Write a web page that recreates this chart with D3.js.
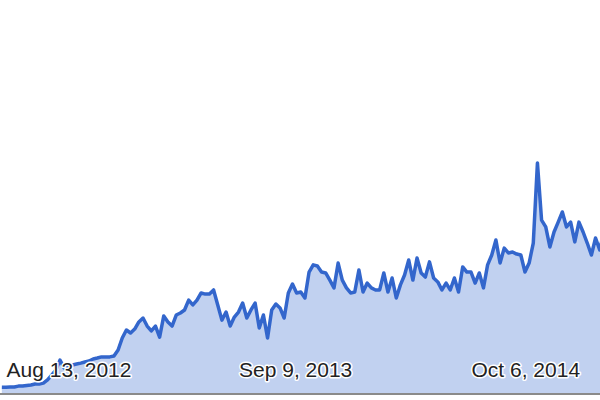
<!DOCTYPE html>
<html>
<head>
<meta charset="utf-8">
<script src="https://cdn.jsdelivr.net/npm/d3@7"></script>
<style>
  html, body { margin: 0; padding: 0; background: #fff; }
  svg { display: block; }
</style>
</head>
<body>
<svg id="chart" width="600" height="400"></svg>
<script>
// Weekly search-interest series (starts week of Aug 6, 2012)
const startDate = "2012-08-06";
const values = [
  2.5, 2.5, 2.6, 2.6, 3, 3, 3.3, 3.5, 3.9, 3.9,
  4.3, 5.7, 7.8, 10, 14.3, 10.9, 11.7, 12.2, 12.6, 13,
  13.5, 13.9, 14.8, 15.2, 15.7, 15.7, 15.7, 16.1, 18.7, 23.9,
  27.4, 26.1, 27.8, 30.9, 32.6, 29.1, 27, 29.1, 24.3, 33.5,
  30.9, 29.1, 33.9, 34.8, 36.1, 40.4, 38.3, 40.4, 43.5, 43,
  43, 44.8, 38.3, 31.7, 35.2, 29.1, 33, 35.2, 39.1, 32.6,
  36.1, 39.1, 28.3, 33.9, 23.9, 36.1, 38.7, 37, 32.6, 43.5,
  47.4, 43.5, 43.9, 41.3, 52.6, 55.7, 55.2, 52.6, 52.2, 49.1,
  45.7, 56.5, 49.1, 45.7, 43.5, 43.9, 53.5, 43.9, 47.8, 45.7,
  44.8, 44.8, 52.2, 43.9, 50, 41.3, 47, 51.3, 57.8, 49.1,
  58.7, 52.2, 50.4, 57, 50, 48.3, 44.8, 47.8, 44.8, 50,
  43.9, 54.8, 52.6, 52.6, 47.8, 52.2, 45.7, 55.7, 60, 66.5,
  56.5, 63, 60.9, 61.3, 60.4, 60, 52.6, 56.5, 65.2, 100,
  75.2, 72.2, 63.5, 70, 74.3, 78.7, 72.2, 74.3, 65.7, 74.3,
  70, 65.2, 60, 67.4, 62.2, 70
];
const tickLabels = ["2012-08-13", "2013-09-09", "2014-10-06"];

const parse = d3.timeParse("%Y-%m-%d");
const t0 = parse(startDate);
const data = values.map((v, i) => ({ date: d3.timeWeek.offset(t0, i), value: v }));
const ticks = tickLabels.map(parse);

const svg = d3.select("#chart");
const baseY = 393;

const x = d3.scaleTime()
  .domain([ticks[0], ticks[2]])
  .range([6, 471]);

const y = d3.scaleLinear()
  .domain([0, 100])
  .range([baseY, 163]);

const area = d3.area()
  .x(d => x(d.date))
  .y0(y(0))
  .y1(d => y(d.value));

const line = d3.line()
  .x(d => x(d.date))
  .y(d => y(d.value));

svg.append("path")
  .datum(data)
  .attr("d", area)
  .attr("fill", "#3366cc")
  .attr("fill-opacity", 0.3);

svg.append("path")
  .datum(data)
  .attr("d", line)
  .attr("fill", "none")
  .attr("stroke", "#3366cc")
  .attr("stroke-width", 3.5)
  .attr("stroke-linejoin", "round");

const axis = d3.axisBottom(x)
  .tickValues(ticks)
  .tickFormat(d3.timeFormat("%b %-d, %Y"))
  .tickSize(0)
  .tickSizeOuter(0);

const gx = svg.append("g")
  .attr("transform", `translate(0,${baseY})`)
  .call(axis);

gx.select(".domain")
  .attr("d", "M0,1H600")
  .attr("stroke", "#8a8a8a")
  .attr("stroke-width", 2);

gx.selectAll(".tick text")
  .attr("y", -16)
  .attr("dy", 0)
  .attr("text-anchor", "start")
  .attr("font-family", "'Liberation Sans', Arial, sans-serif")
  .attr("font-size", 21)
  .attr("fill", "#222")
  .attr("stroke", "#fff")
  .attr("stroke-width", 3)
  .attr("stroke-linejoin", "round")
  .attr("paint-order", "stroke");
</script>
</body>
</html>
